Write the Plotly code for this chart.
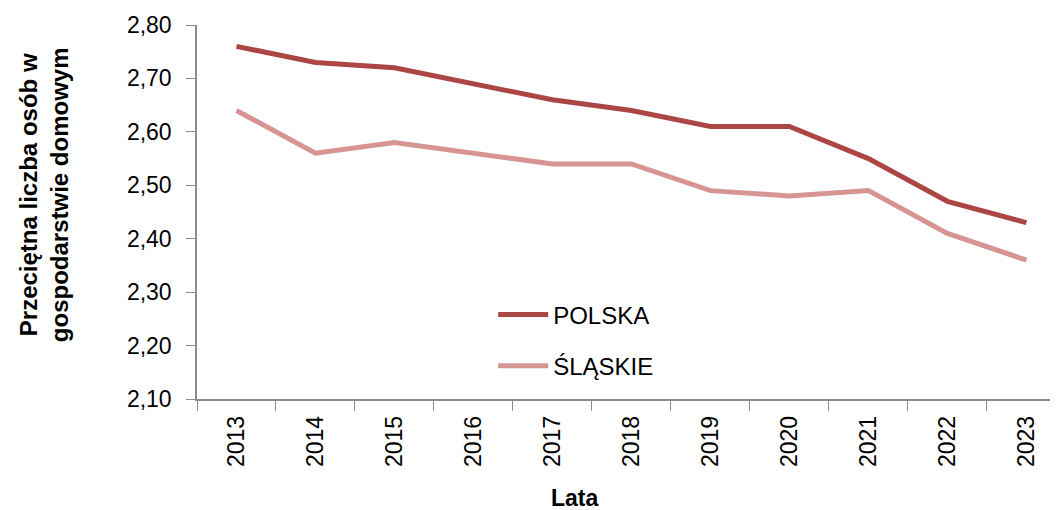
import plotly.graph_objects as go

# Przeciętna liczba osób w gospodarstwie domowym
lata = ["2013", "2014", "2015", "2016", "2017", "2018", "2019", "2020", "2021", "2022", "2023"]
polska = [2.76, 2.73, 2.72, 2.69, 2.66, 2.64, 2.61, 2.61, 2.55, 2.47, 2.43]
slaskie = [2.64, 2.56, 2.58, 2.56, 2.54, 2.54, 2.49, 2.48, 2.49, 2.41, 2.36]

y_ticks = [2.10, 2.20, 2.30, 2.40, 2.50, 2.60, 2.70, 2.80]

FONT = "Liberation Sans, Arial, sans-serif"
AXIS_GREY = "#8C8C8C"

fig = go.Figure()
fig.add_trace(
    go.Scatter(
        x=lata,
        y=polska,
        name="POLSKA",
        mode="lines",
        line=dict(color="#AB4644", width=5),
        legendgroup="a",
    )
)
fig.add_trace(
    go.Scatter(
        x=lata,
        y=slaskie,
        name="ŚLĄSKIE",
        mode="lines",
        line=dict(color="#D69593", width=5),
        legendgroup="b",
    )
)

# page body adds an 8px margin, so the figure is 8px smaller than the window
fig.update_layout(
    width=1050,
    height=502,
    paper_bgcolor="white",
    plot_bgcolor="white",
    separators=", ",
    font=dict(family=FONT, color="#000000", size=23),
    margin=dict(l=189, r=0, t=17, b=111),
    legend=dict(
        x=0.344,
        y=0.285,
        xanchor="left",
        yanchor="top",
        bgcolor="rgba(0,0,0,0)",
        font=dict(family=FONT, size=24, color="#000000"),
        tracegroupgap=17,
        itemwidth=50,
    ),
    xaxis=dict(
        type="category",
        range=[-0.5, 10.4],
        showgrid=False,
        showline=True,
        linecolor=AXIS_GREY,
        linewidth=1.5,
        ticks="outside",
        tickson="boundaries",
        ticklen=10,
        tickcolor=AXIS_GREY,
        tickangle=-90,
        tickfont=dict(family=FONT, size=23),
        ticklabelstandoff=6,
        zeroline=False,
    ),
    yaxis=dict(
        range=[2.10, 2.80],
        tickvals=y_ticks,
        tickformat=".2f",
        showgrid=False,
        showline=True,
        linecolor=AXIS_GREY,
        linewidth=1.5,
        ticks="outside",
        ticklen=9,
        tickcolor=AXIS_GREY,
        tickfont=dict(family=FONT, size=23),
        ticklabelstandoff=10,
        zeroline=False,
    ),
    annotations=[
        dict(
            text="<b>Przeciętna liczba osób w<br>gospodarstwie domowym</b>",
            xref="paper",
            yref="paper",
            x=0,
            y=0.545,
            xshift=-153,
            xanchor="center",
            yanchor="middle",
            textangle=-90,
            showarrow=False,
            font=dict(family=FONT, size=24),
        ),
        dict(
            text="<b>Lata</b>",
            xref="paper",
            yref="paper",
            x=(567 - 189) / 861,
            y=0,
            yshift=-99,
            xanchor="center",
            yanchor="middle",
            showarrow=False,
            font=dict(family=FONT, size=23),
        ),
    ],
)

fig.write_html("out.html")
